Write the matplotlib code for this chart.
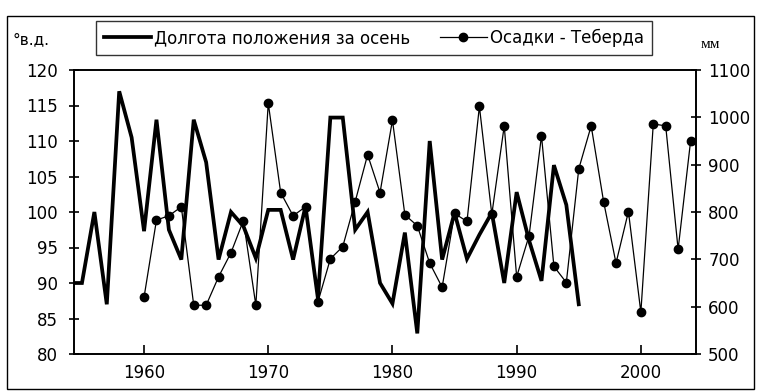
import matplotlib.pyplot as plt
from matplotlib.patches import Rectangle

# longitude of position for autumn (deg E), thick line
lon_years = list(range(1954, 1996))
lon_values = [90, 90, 100, 87, 117, 110.5, 97.3, 113, 97.5, 93.3,
              113, 107, 93.3, 100, 98, 93.5, 100.3, 100.3, 93.3, 100.8,
              87.8, 113.3, 113.3, 97.5, 100, 90, 87.1, 97.1, 82.9, 110,
              93.3, 99.9, 93.4, 96.8, 99.9, 90, 102.8, 96, 90.3, 106.6,
              101, 87]

# precipitation, Teberda (mm)
prec_years = list(range(1960, 2005))
prec_values = [620, 783, 792, 811, 603, 603, 663, 714, 782, 603,
               1030, 841, 792, 811, 610, 701, 727, 822, 921, 841,
               994, 794, 771, 692, 641, 797, 780, 1023, 795, 982,
               663, 750, 961, 685, 651, 891, 982, 822, 692, 801,
               588, 986, 982, 721, 949]

x_ticks = [1960, 1970, 1980, 1990, 2000]

plt.rcParams['font.family'] = ['DejaVu Sans']

fig = plt.figure(figsize=(7.58, 3.92), dpi=100)
ax = fig.add_axes([74 / 758, 1 - 354 / 392, (696 - 74) / 758, (354 - 70) / 392])
ax2 = ax.twinx()

l1, = ax.plot(lon_years, lon_values, color='black', lw=2.7,
              solid_joinstyle='miter', label='Долгота положения за осень')
l2, = ax2.plot(prec_years, prec_values, color='black', lw=0.9, marker='o',
               markersize=6, label='Осадки - Теберда')

ax.set_xlim(1954.36, 2004.44)
ax.set_ylim(80, 120)
ax2.set_ylim(500, 1100)
ax.set_xticks(x_ticks)
ax.set_yticks(range(80, 121, 5))
ax2.set_yticks(range(500, 1101, 100))

for a in (ax, ax2):
    for s in a.spines.values():
        s.set_linewidth(1.2)
ax.tick_params(axis='x', direction='in', length=6.5, width=1.2, pad=7, labelsize=12)
ax.tick_params(axis='y', direction='inout', length=7.5, width=1.2, pad=8, labelsize=12)
ax2.tick_params(axis='y', direction='inout', length=7.5, width=1.2, pad=5, labelsize=12)

fig.text(12 / 758, 1 - 40 / 392, '°в.д.', fontsize=11, va='center', ha='left')
fig.text(701 / 758, 1 - 45 / 392, 'мм', fontsize=11, va='center', ha='left',
         family='Liberation Serif')

leg = fig.legend(handles=[l1, l2], loc='center', ncol=2,
                 bbox_to_anchor=(374 / 758, 1 - 38 / 392), fontsize=12,
                 frameon=True, fancybox=False, edgecolor='black',
                 handlelength=2.8, handletextpad=0.2, columnspacing=1.8,
                 borderpad=0.5, borderaxespad=0)
leg.get_frame().set_linewidth(1.0)

fig.patches.append(Rectangle((7 / 758, 3 / 392), 747 / 758, 373 / 392,
                             transform=fig.transFigure, fill=False,
                             edgecolor='black', lw=1.0))

fig.savefig('out.png', dpi=100)
